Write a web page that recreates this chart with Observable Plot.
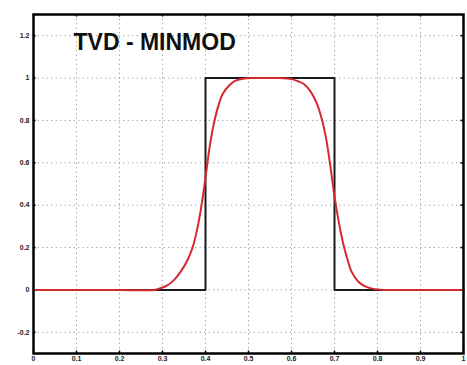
<!DOCTYPE html>
<html>
<head>
<meta charset="utf-8">
<script src="https://cdn.jsdelivr.net/npm/d3@7"></script>
<script src="https://cdn.jsdelivr.net/npm/@observablehq/plot@0.6"></script>
<style>
  html, body { margin: 0; padding: 0; background: #fff; }
  #chart svg { display: block; }
</style>
</head>
<body>
<div id="chart"></div>
<script>
// Exact square pulse (initial condition)
const exactX = [0, 0.4, 0.4, 0.7, 0.7, 1];
const exactU = [0, 0, 1, 1, 0, 0];

// TVD minmod numerical solution
const numX = [0, 0.1, 0.2, 0.28, 0.295, 0.31, 0.326, 0.342, 0.358, 0.37, 0.38, 0.39, 0.40, 0.41, 0.42, 0.43, 0.44, 0.455, 0.47, 0.49,
              0.51, 0.53, 0.55, 0.57, 0.59,
              0.60, 0.615, 0.63, 0.645, 0.66, 0.67, 0.68, 0.69, 0.70, 0.71, 0.72, 0.73, 0.74, 0.755, 0.77, 0.79, 0.82, 0.9, 1];
const numU = [0, 0, 0, 0, 0.008, 0.02, 0.045, 0.085, 0.14, 0.2, 0.28, 0.39, 0.53, 0.68, 0.79, 0.87, 0.925, 0.965, 0.988, 0.998,
              1.0, 1.0, 1.0, 1.0, 0.998,
              0.995, 0.985, 0.97, 0.935, 0.875, 0.81, 0.72, 0.59, 0.44, 0.32, 0.22, 0.145, 0.085, 0.04, 0.018, 0.005, 0, 0, 0];

const xTicks = [0, 0.1, 0.2, 0.3, 0.4, 0.5, 0.6, 0.7, 0.8, 0.9, 1];
const yTicks = [-0.2, 0, 0.2, 0.4, 0.6, 0.8, 1, 1.2];
const title = "TVD - MINMOD";

const exact = exactX.map((x, i) => ({x, u: exactU[i]}));
const num = numX.map((x, i) => ({x, u: numU[i]}));

const fmt = d => String(d);

const chart = Plot.plot({
  width: 467,
  height: 365,
  marginLeft: 33,
  marginRight: 4,
  marginTop: 14,
  marginBottom: 12,
  style: {fontFamily: "Liberation Sans, Arial, sans-serif", background: "#fff"},
  x: {domain: [0, 1], label: null},
  y: {domain: [-0.3, 1.3], label: null},
  marks: [
    Plot.gridX(xTicks, {stroke: "#999", strokeOpacity: 0.8, strokeDasharray: "1.5,3"}),
    Plot.gridY(yTicks, {stroke: "#999", strokeOpacity: 0.8, strokeDasharray: "1.5,3"}),
    Plot.axisX(xTicks, {tickSize: 0, tickPadding: 3, tickFormat: fmt, fontSize: 7, fontWeight: "bold", fill: "#222", label: null}),
    Plot.axisY(yTicks, {tickSize: 0, tickPadding: 4, tickFormat: fmt, fontSize: 7, fontWeight: "bold", fill: "#222", label: null}),
    // short inward tick marks on the bottom, top, left and right edges
    Plot.ruleX(xTicks, {x: d => d, y1: -0.3, y2: -0.288, stroke: "#000", strokeWidth: 1.5}),
    Plot.ruleX(xTicks, {x: d => d, y1: 1.3, y2: 1.288, stroke: "#000", strokeWidth: 1.5}),
    Plot.ruleY(yTicks, {y: d => d, x1: 0, x2: 0.006, stroke: "#000", strokeWidth: 1.5}),
    Plot.ruleY(yTicks, {y: d => d, x1: 1, x2: 0.994, stroke: "#000", strokeWidth: 1.5}),
    Plot.line(exact, {x: "x", y: "u", stroke: "#1a1a1a", strokeWidth: 2}),
    Plot.line(num, {x: "x", y: "u", stroke: "#d42a2e", strokeWidth: 2, curve: "catmull-rom"}),
    Plot.text([title], {frameAnchor: "top-left", dx: 40, dy: 19, text: d => d, textAnchor: "start",
      lineAnchor: "top", fontSize: 23, fontWeight: "bold", fill: "#111"}),
    Plot.frame({stroke: "#000", strokeWidth: 2.5})
  ]
});

document.getElementById("chart").append(chart);
</script>
</body>
</html>
